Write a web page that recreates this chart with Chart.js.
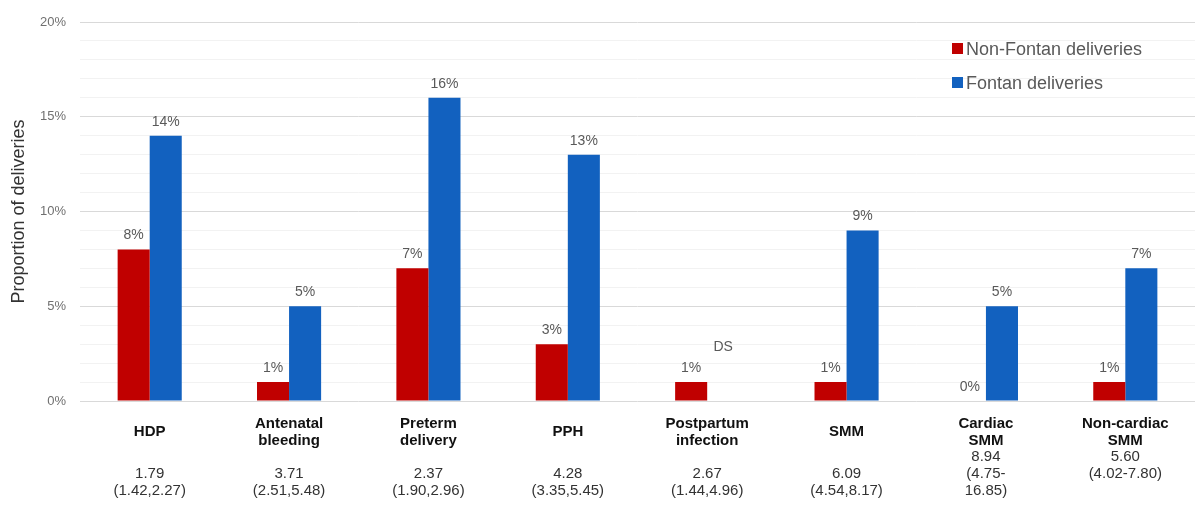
<!DOCTYPE html>
<html>
<head>
<meta charset="utf-8">
<script src="https://cdn.jsdelivr.net/npm/chart.js@4/dist/chart.umd.min.js"></script>
<style>
  html, body { margin: 0; padding: 0; background: #ffffff; overflow: hidden; }
  canvas { display: block; }
</style>
</head>
<body>
<canvas id="chart" width="1195" height="514"></canvas>
<script>
// ---- data ----
const categoryNames = [
  ["HDP"],
  ["Antenatal", "bleeding"],
  ["Preterm", "delivery"],
  ["PPH"],
  ["Postpartum", "infection"],
  ["SMM"],
  ["Cardiac", "SMM"],
  ["Non-cardiac", "SMM"]
];
const oddsRatioLines = [
  ["", "1.79", "(1.42,2.27)"],
  ["", "3.71", "(2.51,5.48)"],
  ["", "2.37", "(1.90,2.96)"],
  ["", "4.28", "(3.35,5.45)"],
  ["", "2.67", "(1.44,4.96)"],
  ["", "6.09", "(4.54,8.17)"],
  ["8.94", "(4.75-", "16.85)"],
  ["5.60", "(4.02-7.80)"]
];
const nonFontanValues = [8, 1, 7, 3, 1, 1, 0, 1];
const fontanValues = [14, 5, 16, 13, null, 9, 5, 7];
const fontanNotes = ["", "", "", "", "DS", "", "", ""];
const seriesNames = ["Non-Fontan deliveries", "Fontan deliveries"];
const yTickValues = [0, 5, 10, 15, 20];
const yAxisTitle = "Proportion of deliveries";

const RED = "#C00000";
const BLUE = "#1261BF";
const FONT = "'Liberation Sans', Arial, Helvetica, sans-serif";

const labelPlugin = {
  id: "customLabels",
  afterDraw(chart) {
    const ctx = chart.ctx;
    const xs = chart.scales.x;
    const ys = chart.scales.y;
    const base = ys.getPixelForValue(0);
    ctx.save();
    // value labels
    ctx.font = "14px " + FONT;
    ctx.fillStyle = "#595959";
    ctx.textAlign = "center";
    ctx.textBaseline = "middle";
    chart.data.datasets.forEach((ds, di) => {
      const meta = chart.getDatasetMeta(di);
      meta.data.forEach((el, i) => {
        const v = ds.data[i];
        if (v === null || v === undefined) return;
        ctx.fillText(v + "%", el.x, el.y - 14);
      });
    });
    // notes (DS)
    const meta0 = chart.getDatasetMeta(0);
    fontanNotes.forEach((note, i) => {
      if (!note) return;
      const el = meta0.data[i];
      const x = el.x + el.width;
      ctx.fillText(note, x, base - 54);
    });
    // category labels
    categoryNames.forEach((lines, i) => {
      const cx = xs.getPixelForValue(i);
      ctx.font = "bold 15px " + FONT;
      ctx.fillStyle = "#111111";
      const lh = 17;
      const centerY = 432;
      const top = centerY - (lines.length - 1) * lh / 2;
      lines.forEach((t, k) => ctx.fillText(t, cx, top + k * lh));
      ctx.font = "15px " + FONT;
      ctx.fillStyle = "#333333";
      oddsRatioLines[i].forEach((t, k) => ctx.fillText(t, cx, 457 + k * lh));
    });
    // legend
    ctx.textAlign = "left";
    ctx.font = "18px " + FONT;
    const legendColors = [RED, BLUE];
    const legendY = [49, 83];
    seriesNames.forEach((name, k) => {
      ctx.fillStyle = legendColors[k];
      ctx.fillRect(952, legendY[k] - 6, 11, 11);
      ctx.fillStyle = "#595959";
      ctx.fillText(name, 966, legendY[k] + 1);
    });
    ctx.restore();
  }
};

new Chart(document.getElementById("chart"), {
  type: "bar",
  data: {
    labels: categoryNames.map(c => c.join(" ")),
    datasets: [
      { label: seriesNames[0], data: nonFontanValues, backgroundColor: RED },
      { label: seriesNames[1], data: fontanValues, backgroundColor: BLUE }
    ]
  },
  options: {
    responsive: false,
    animation: false,
    devicePixelRatio: 1,
    layout: { padding: { top: 22, right: 0, bottom: 0, left: 8 } },
    plugins: {
      legend: { display: false },
      tooltip: { enabled: false }
    },
    datasets: {
      bar: { categoryPercentage: 0.46, barPercentage: 1.0 }
    },
    scales: {
      x: {
        grid: { display: false },
        border: { display: false },
        ticks: { display: false },
        afterFit(scale) { scale.height = 113; }
      },
      y: {
        min: 0,
        max: 20,
        border: { display: false },
        grid: {
          drawTicks: false,
          color: c => (yTickValues.includes(c.tick.value) ? "#d9d9d9" : "#f2f2f2"),
          lineWidth: 1
        },
        ticks: {
          stepSize: 1,
          autoSkip: false,
          padding: 14,
          color: "#707070",
          font: { family: FONT, size: 13 },
          callback: v => (yTickValues.includes(v) ? v + "%" : "")
        },
        title: {
          display: true,
          text: yAxisTitle,
          color: "#333333",
          font: { family: FONT, size: 18 },
          padding: { top: 0, bottom: 0 }
        },
        afterFit(scale) { scale.width = 72; }
      }
    }
  },
  plugins: [labelPlugin]
});
</script>
</body>
</html>
